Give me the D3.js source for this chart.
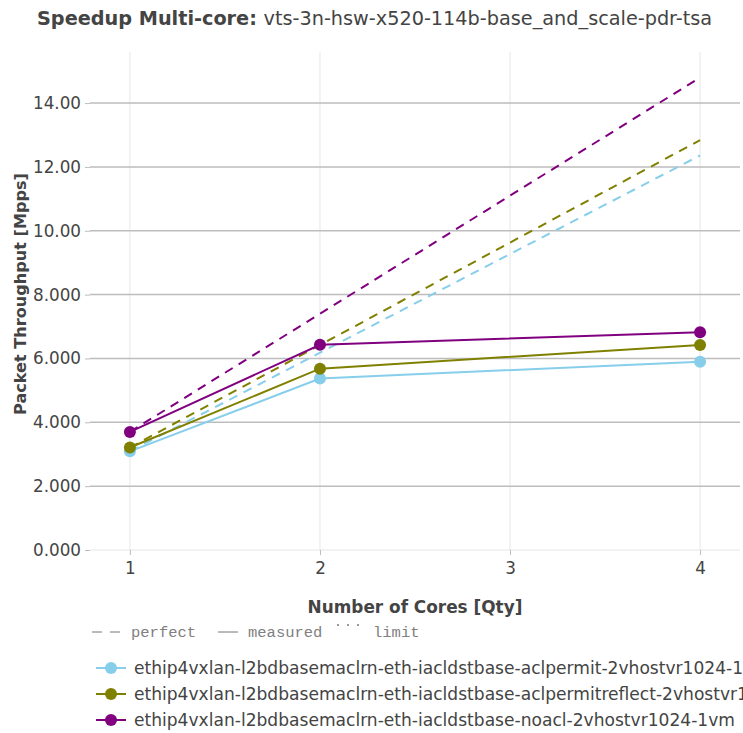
<!DOCTYPE html>
<html lang="en">
<head>
<meta charset="UTF-8">
<title>Speedup Multi-core</title>
<script src="https://d3js.org/d3.v7.min.js"></script>
<style>
    body { margin: 0; padding: 0; background: #fff; }
    svg { display: block; font-family: 'DejaVu Sans', sans-serif; }
</style>
</head>
<body>
<div id="chart"></div>
<script>
    // data
    const cores = [1, 2, 4];
    const seriesNames = [
        'ethip4vxlan-l2bdbasemaclrn-eth-iacldstbase-aclpermit-2vhostvr1024-1vm',
        'ethip4vxlan-l2bdbasemaclrn-eth-iacldstbase-aclpermitreflect-2vhostvr1024-1vm',
        'ethip4vxlan-l2bdbasemaclrn-eth-iacldstbase-noacl-2vhostvr1024-1vm'
    ];
    const seriesColors = ['#87ceeb', '#808000', '#800080'];
    const measuredAclpermit = [3.09, 5.37, 5.90];
    const measuredReflect = [3.21, 5.68, 6.42];
    const measuredNoacl = [3.70, 6.43, 6.82];
    const yTicks = [0, 2, 4, 6, 8, 10, 12, 14];
    const yTickLabels = ['0.000', '2.000', '4.000', '6.000', '8.000', '10.00', '12.00', '14.00'];

    const measured = [measuredAclpermit, measuredReflect, measuredNoacl];

    const width = 743, height = 733;
    const margin = { left: 90, right: 3, top: 52, bottom: 183 };

    const svg = d3.select('#chart').append('svg')
        .attr('width', width)
        .attr('height', height);

    const x = d3.scaleLinear().domain([0.79, 4.21]).range([margin.left, width - margin.right]);
    const y = d3.scaleLinear().domain([0, 15.6]).range([height - margin.bottom, margin.top]);

    // grid
    svg.append('g').selectAll('line')
        .data([1, 2, 3, 4])
        .join('line')
        .attr('x1', d => x(d)).attr('x2', d => x(d))
        .attr('y1', y(15.6)).attr('y2', y(0))
        .attr('stroke', '#e6e6e6').attr('stroke-width', 1);

    svg.append('g').selectAll('line')
        .data(yTicks.filter(d => d > 0))
        .join('line')
        .attr('x1', margin.left).attr('x2', width - margin.right)
        .attr('y1', d => y(d)).attr('y2', d => y(d))
        .attr('stroke', '#bdbdbd').attr('stroke-width', 1.5);

    svg.append('line')
        .attr('x1', margin.left).attr('x2', width - margin.right)
        .attr('y1', y(0)).attr('y2', y(0))
        .attr('stroke', '#e6e6e6').attr('stroke-width', 1);

    // left axis
    const yAxis = d3.axisLeft(y).tickValues(yTicks)
        .tickFormat((d, i) => yTickLabels[i]).tickSize(5).tickPadding(4);
    const gy = svg.append('g').attr('transform', `translate(${margin.left},0)`).call(yAxis);
    gy.select('.domain').remove();
    gy.selectAll('.tick line').attr('stroke', '#bdbdbd');
    gy.selectAll('.tick text').attr('fill', '#444').style('font-size', '16.8px')
        .style('font-family', "'DejaVu Sans', sans-serif");

    // bottom axis
    const xAxis = d3.axisBottom(x).tickValues([1, 2, 3, 4])
        .tickFormat(d3.format('d')).tickSize(5).tickPadding(7);
    const gx = svg.append('g').attr('transform', `translate(0,${y(0)})`).call(xAxis);
    gx.select('.domain').remove();
    gx.selectAll('.tick line').attr('stroke', '#bdbdbd');
    gx.selectAll('.tick text').attr('fill', '#444').style('font-size', '16.8px')
        .style('font-family', "'DejaVu Sans', sans-serif");

    // perfect scaling lines
    const line = d3.line().x(d => x(d[0])).y(d => y(d[1]));
    measured.forEach((vals, i) => {
        const perfect = cores.map(c => [c, vals[0] * c]);
        svg.append('path')
            .attr('d', line(perfect))
            .attr('fill', 'none')
            .attr('stroke', seriesColors[i])
            .attr('stroke-width', 2)
            .attr('stroke-dasharray', '9,7');
    });

    // measured lines
    measured.forEach((vals, i) => {
        const pts = cores.map((c, j) => [c, vals[j]]);
        svg.append('path')
            .attr('d', line(pts))
            .attr('fill', 'none')
            .attr('stroke', seriesColors[i])
            .attr('stroke-width', 2);
        svg.append('g').selectAll('circle')
            .data(pts)
            .join('circle')
            .attr('cx', d => x(d[0]))
            .attr('cy', d => y(d[1]))
            .attr('r', 6)
            .attr('fill', seriesColors[i]);
    });

    // shrink or grow a text so it spans the width seen in the picture
    function fitText(sel, target) {
        const w = sel.node().getComputedTextLength();
        const fs = parseFloat(sel.style('font-size'));
        sel.style('font-size', (fs * target / w).toFixed(2) + 'px');
    }

    // title
    const title = svg.append('text')
        .attr('x', 37).attr('y', 25)
        .attr('fill', '#444')
        .style('font-size', '18px');
    title.append('tspan').style('font-weight', 'bold').text('Speedup Multi-core: ');
    title.append('tspan').text('vts-3n-hsw-x520-114b-base_and_scale-pdr-tsa');
    fitText(title, 675);

    // axis titles
    const xTitle = svg.append('text')
        .attr('x', 415).attr('y', 613)
        .attr('text-anchor', 'middle')
        .attr('fill', '#444')
        .style('font-size', '16px').style('font-weight', 'bold')
        .text('Number of Cores [Qty]');
    fitText(xTitle, 215);

    const yTitle = svg.append('text')
        .attr('transform', 'translate(26,294) rotate(-90)')
        .attr('text-anchor', 'middle')
        .attr('fill', '#444')
        .style('font-size', '16px').style('font-weight', 'bold')
        .text('Packet Throughput [Mpps]');
    fitText(yTitle, 242);

    // line style legend
    const styleLegend = svg.append('g').attr('transform', 'translate(0,637)');
    styleLegend.append('line')
        .attr('x1', 92).attr('x2', 124).attr('y1', -5).attr('y2', -5)
        .attr('stroke', '#777').attr('stroke-width', 1).attr('stroke-dasharray', '10,8');
    styleLegend.append('line')
        .attr('x1', 218).attr('x2', 238).attr('y1', -5).attr('y2', -5)
        .attr('stroke', '#777').attr('stroke-width', 1);
    styleLegend.selectAll('circle')
        .data([338, 348, 358])
        .join('circle')
        .attr('cx', d => d).attr('cy', -12).attr('r', 1)
        .attr('fill', '#777');
    [['perfect', 131], ['measured', 248], ['limit', 373]].forEach(([label, lx]) => {
        styleLegend.append('text')
            .attr('x', lx).attr('y', 0)
            .attr('fill', '#808080')
            .style('font-family', "'Courier New', 'Liberation Mono', monospace")
            .style('font-size', '15.5px')
            .text(label);
    });

    // series legend
    const legend = svg.append('g').attr('transform', 'translate(96,668)');
    seriesNames.forEach((name, i) => {
        const row = legend.append('g').attr('transform', `translate(0,${i * 26})`);
        row.append('line')
            .attr('x1', 0).attr('x2', 30)
            .attr('stroke', seriesColors[i]).attr('stroke-width', 2);
        row.append('circle').attr('cx', 15).attr('r', 6).attr('fill', seriesColors[i]);
        const t = row.append('text')
            .attr('x', 38).attr('y', 6)
            .attr('fill', '#444')
            .style('font-size', '16px')
            .text(name);
        if (i === 2) fitText(t, 601);
    });
    // same font size on all rows as the fitted last row
    const legendSize = legend.selectAll('text').filter((d, i) => i === 2).style('font-size');
    legend.selectAll('text').style('font-size', legendSize);
</script>
</body>
</html>
